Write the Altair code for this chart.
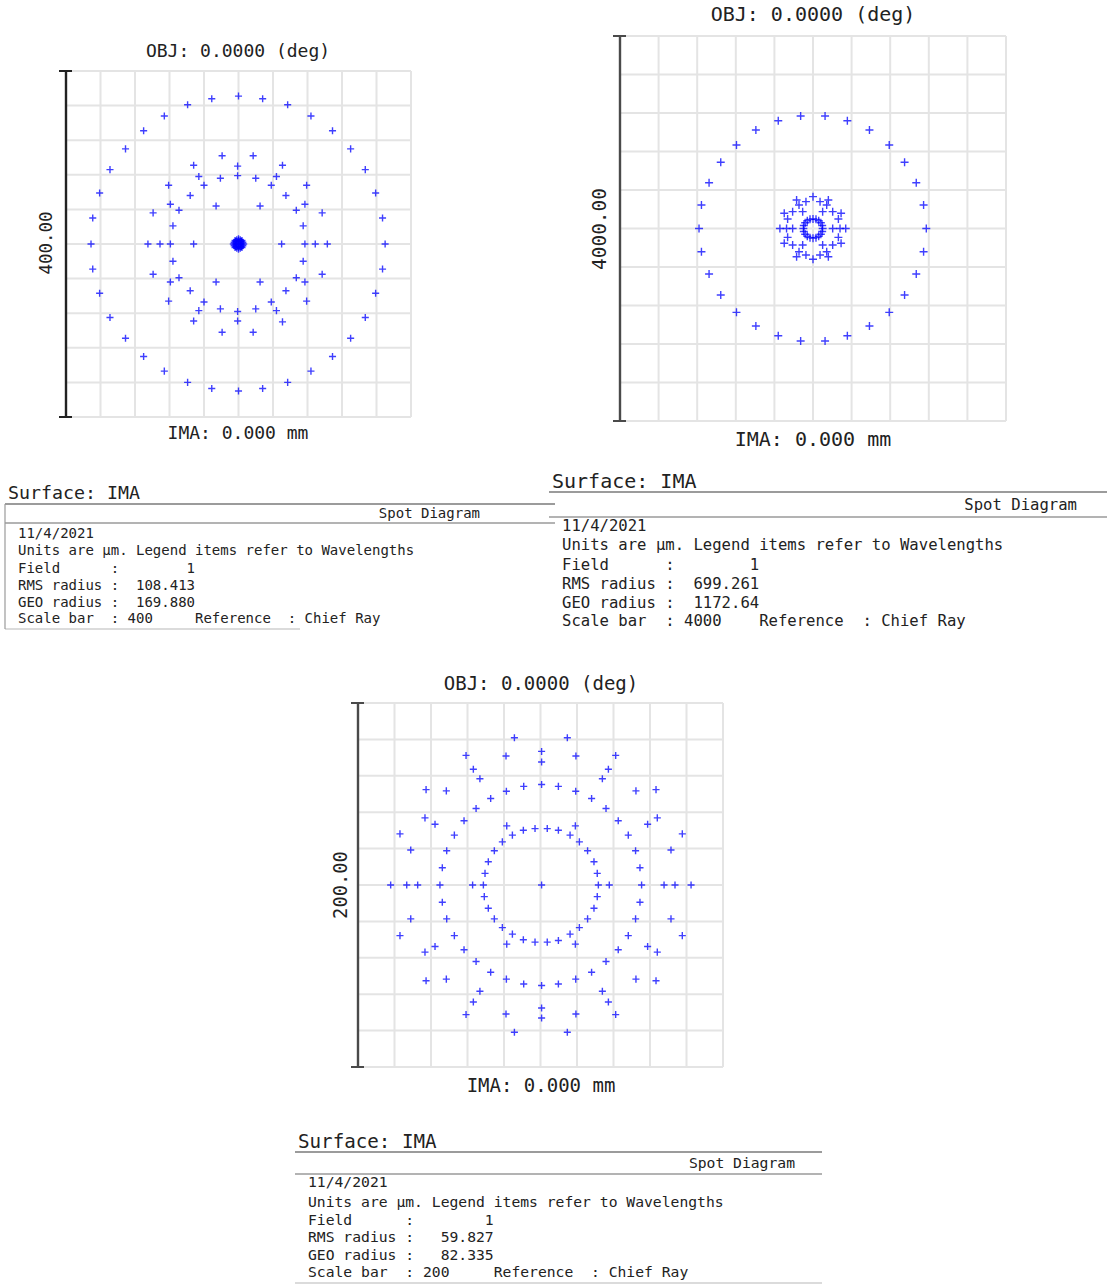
import altair as alt
import pandas as pd

FONT = "DejaVu Sans Mono"
INK = "#222222"
GRID_COLOR = "#e4e4e4"
SPOT_COLOR = "#0000ff"
# thin "+" marker drawn as a custom symbol path
PLUS = "M-1,0H1M0,-1V1"

# ---------------------------------------------------------------- spot data (µm)
# field A: scale bar 400 µm
SPOTS_A = [
    # outer ring
    (0, 171), (-31, 168), (28, 168), (-59, 161), (57, 161), (-86, 148), (84, 148),
    (-110, 131), (109, 131), (-131, 110), (130, 110), (-149, 86), (147, 86),
    (-161, 59), (159, 59), (-169, 30), (167, 30), (-171, 0), (170, 0),
    (-169, -29), (167, -29), (-161, -57), (159, -57), (-149, -85), (147, -85),
    (-131, -109), (130, -109), (-110, -130), (109, -130), (-86, -147), (84, -147),
    (-59, -160), (57, -160), (-31, -167), (28, -167), (0, -170),
    # middle zone
    (-19, 102), (17, 102), (-52, 91), (-1, 90), (51, 91), (-46, 78), (-21, 76),
    (-1, 79), (20, 76), (44, 78), (-81, 68), (-40, 68), (38, 68), (79, 68),
    (-56, 56), (55, 56), (-79, 46), (-69, 39), (-26, 44), (25, 44), (67, 39),
    (77, 46), (-99, 36), (97, 36), (-76, 21), (75, 21),
    (-105, 0), (-91, 0), (-79, 0), (-52, 0), (50, 0), (77, 0), (89, 0), (103, 0),
    (-76, -20), (75, -20), (-99, -35), (97, -35), (-79, -44), (-69, -39),
    (-26, -44), (25, -44), (67, -39), (77, -44), (-56, -54), (55, -54),
    (-81, -66), (-40, -67), (38, -67), (79, -66), (-46, -77), (-21, -75),
    (-1, -78), (20, -75), (44, -77), (-52, -89), (-1, -89), (51, -90),
    (-19, -102), (17, -102),
    # core
    (0, 0), (4, 0), (-4, 0), (0, 4), (0, -4), (3, 3), (-3, 3), (3, -3), (-3, -3),
    (5, 2), (-5, 2), (5, -2), (-5, -2), (2, 5), (-2, 5), (2, -5), (-2, -5),
    (2, 0), (-2, 0), (0, 2), (0, -2), (6, 0), (-6, 0), (0, 6), (0, -6),
    (4, 4), (-4, 4), (4, -4), (-4, -4),
]

# field B: scale bar 4000 µm
SPOTS_B = [
    # outer ring
    (-128, 1169), (125, 1169), (-360, 1120), (356, 1120), (-592, 1023), (585, 1023),
    (-793, 868), (790, 868), (-956, 688), (949, 688), (-1077, 476), (1070, 476),
    (-1156, 244), (1146, 244), (-1181, 0), (1174, 0), (-1156, -241), (1146, -241),
    (-1077, -473), (1070, -473), (-956, -691), (949, -691), (-793, -871), (790, -871),
    (-592, -1013), (585, -1013), (-360, -1114), (356, -1114), (-128, -1169), (125, -1169),
    # inner ring
    (100, 0), (95, 31), (81, 59), (59, 81), (31, 95), (0, 100), (-31, 95), (-59, 81),
    (-81, 59), (-95, 31), (-100, 0), (-95, -31), (-81, -59), (-59, -81), (-31, -95),
    (0, -100), (31, -95), (59, -81), (81, -59), (95, -31),
    # halo around the inner ring
    (-145, 244), (142, 244), (-145, -241), (142, -241), (0, 331), (0, -320),
    (-170, 296), (159, 296), (-170, -293), (159, -293), (-107, 175), (100, 175),
    (-107, -171), (100, -171), (-211, 175), (204, 175), (-211, -171), (204, -171),
    (-263, 99), (263, 99), (-263, -92), (263, -92), (-298, 158), (291, 158),
    (-298, -154), (291, -154), (-343, 0), (-274, 0), (-211, 0), (204, 0), (280, 0),
    (339, 0), (-73, 279), (73, 279), (-73, -275), (73, -275),
]

# field C: scale bar 200 µm
SPOTS_C = [
    # upper half
    (-14.3, 80.9), (14.7, 80.9), (-40.8, 71.2), (-18.9, 70.9), (0.6, 73.4), (0.6, 67.6),
    (19.4, 70.9), (41.2, 71.2), (-36.8, 63.6), (37.2, 63.6), (-33.2, 58.4), (33.9, 58.4),
    (-62.7, 52.4), (-51.6, 51.7), (52.3, 51.7), (63.3, 52.4), (-18.7, 51.5), (-9.2, 54.2),
    (0.6, 55.2), (9.8, 54.2), (19.3, 51.5), (-27.3, 47.5), (28.0, 47.5), (-35.3, 42.0),
    (35.9, 42.0), (-63.3, 36.9), (64.0, 36.9), (-57.8, 33.4), (58.7, 33.4), (-41.9, 35.3),
    (42.6, 35.3), (-77.0, 28.1), (77.7, 28.1), (-47.2, 27.4), (48.1, 27.4), (-71.1, 19.2),
    (71.5, 19.2), (-51.4, 18.8), (52.1, 18.8), (-53.8, 9.5), (54.5, 9.5),
    # centre row
    (-82.1, 0), (-73.3, 0), (-67.3, 0), (-55.1, 0), (-37.2, 0), (-31.3, 0), (0.6, 0),
    (31.7, 0), (37.7, 0), (55.4, 0), (67.7, 0), (73.7, 0), (82.5, 0),
    # inner ring
    (-18.5, 32.5), (-9.4, 30.1), (-3.0, 31.0), (3.7, 31.0), (9.8, 30.1), (19.1, 32.5),
    (-15.4, 27.4), (16.2, 27.4), (-20.9, 23.7), (21.3, 23.7), (-25.3, 18.8), (25.8, 18.8),
    (-28.6, 12.8), (29.3, 12.8), (-30.4, 6.4), (31.1, 6.4), (-30.8, -6.4), (31.1, -6.4),
    (-28.6, -12.8), (29.3, -12.8), (-25.3, -18.6), (25.8, -18.6), (-20.9, -23.4),
    (21.3, -23.4), (-15.4, -27.0), (16.2, -27.0), (-18.5, -32.5), (-9.4, -30.1),
    (-3.0, -31.4), (3.7, -31.4), (9.8, -30.5), (19.1, -32.5),
    # lower half
    (-77.0, -27.8), (77.7, -27.8), (-47.2, -27.8), (48.1, -27.8), (-71.1, -18.6),
    (71.5, -18.6), (-51.4, -18.6), (52.1, -18.6), (-53.8, -9.5), (54.5, -9.5),
    (-57.8, -33.8), (58.7, -33.8), (-63.3, -36.9), (64.0, -36.9), (-41.9, -35.6),
    (42.6, -35.6), (-35.3, -42.0), (35.9, -42.0), (-62.7, -52.6), (63.3, -52.6),
    (-51.6, -51.7), (52.3, -51.7), (-27.3, -47.9), (28.0, -47.9), (-18.7, -51.7),
    (19.3, -51.7), (-9.2, -54.4), (9.8, -54.4), (0.6, -55.2), (-33.2, -58.4),
    (33.9, -58.4), (-36.8, -64.3), (37.2, -64.3), (-40.8, -71.2), (41.2, -71.2),
    (-18.9, -70.9), (19.4, -70.9), (0.6, -67.6), (0.6, -73.1), (-14.3, -80.9),
    (14.7, -80.9),
]

# grid lines (µm) of each diagram
GRID_A = [-200, -160, -120, -80, -40, 0, 40, 80, 120, 160, 200]
GRID_B = [-2000, -1600, -1200, -800, -400, 0, 400, 800, 1200, 1600, 2000]
GRID_C = [-100, -80, -60, -40, -20, 0, 20, 40, 60, 80, 100]

SCALE_BARS = ["400.00", "4000.00", "200.00"]

# report text of each diagram
DATE = "11/4/2021"
UNITS = "Units are µm. Legend items refer to Wavelengths"
FIELD = "Field      :        1"
RMS = ["RMS radius :  108.413", "RMS radius :  699.261", "RMS radius :   59.827"]
GEO = ["GEO radius :  169.880", "GEO radius :  1172.64", "GEO radius :   82.335"]
BAR = [
    "Scale bar  : 400     Reference  : Chief Ray",
    "Scale bar  : 4000    Reference  : Chief Ray",
    "Scale bar  : 200     Reference  : Chief Ray",
]
TITLE = "OBJ: 0.0000 (deg)"
FOOT = "IMA: 0.000 mm"
SURFACE = "Surface: IMA"
KIND = "Spot Diagram"


def nb(s):
    return s.replace(" ", "\u00a0")


def label(text, x, y, size, align="left", angle=0):
    return (
        alt.Chart(pd.DataFrame({"t": [nb(text)]}))
        .mark_text(font=FONT, fontSize=size, align=align, baseline="middle",
                   angle=angle, color=INK)
        .encode(x=alt.value(x), y=alt.value(y), text="t:N")
    )


def hrule(x1, x2, y, color="#8a8a8a", w=1.2):
    return (
        alt.Chart(pd.DataFrame({"k": [0]}))
        .mark_rule(color=color, strokeWidth=w)
        .encode(x=alt.value(x1), x2=alt.value(x2), y=alt.value(y))
    )


def vrule(x, y1, y2, color="#8a8a8a", w=1.2):
    return (
        alt.Chart(pd.DataFrame({"k": [0]}))
        .mark_rule(color=color, strokeWidth=w)
        .encode(x=alt.value(x), y=alt.value(y1), y2=alt.value(y2))
    )


def spot_panel(spots, grid, xpix, ypix, marker, bar_color):
    half = grid[-1]
    sx = alt.Scale(domain=[-half, half], range=xpix, nice=False, zero=False)
    sy = alt.Scale(domain=[-half, half], range=ypix, nice=False, zero=False)
    g = pd.DataFrame({"g": grid, "lo": -half, "hi": half})
    vgrid = alt.Chart(g).mark_rule(color=GRID_COLOR, strokeWidth=2).encode(
        x=alt.X("g:Q", scale=sx, axis=None),
        y=alt.Y("lo:Q", scale=sy, axis=None), y2="hi:Q")
    hgrid = alt.Chart(g).mark_rule(color=GRID_COLOR, strokeWidth=2).encode(
        y=alt.Y("g:Q", scale=sy, axis=None),
        x=alt.X("lo:Q", scale=sx, axis=None), x2="hi:Q")
    ends = pd.DataFrame({"e": [-half, half], "lo": -half})
    bar = alt.Chart(ends.head(1)).mark_rule(color=bar_color, strokeWidth=2.4).encode(
        x=alt.X("lo:Q", scale=sx, axis=None),
        y=alt.Y("lo:Q", scale=sy, axis=None), y2=alt.Y2(datum=half))
    caps = alt.Chart(ends).mark_rule(color=bar_color, strokeWidth=2, xOffset=-7,
                                     x2Offset=6).encode(
        x=alt.X("lo:Q", scale=sx, axis=None), x2="lo:Q",
        y=alt.Y("e:Q", scale=sy, axis=None))
    pts = pd.DataFrame(spots, columns=["x", "y"])
    dots = alt.Chart(pts).mark_point(shape=PLUS, size=marker, filled=False,
                                     color=SPOT_COLOR, strokeWidth=1.4,
                                     opacity=0.75).encode(
        x=alt.X("x:Q", scale=sx, axis=None),
        y=alt.Y("y:Q", scale=sy, axis=None))
    return alt.layer(vgrid, hgrid, bar, caps, dots)


def report(i, left, top_y, width_right, spot_right, rows, size, surf_size,
           line1, line2, bottom=None, border=False):
    parts = [
        label(SURFACE, left, top_y, surf_size),
        hrule(left - 3, width_right, line1, "#7a7a7a", 1.4),
        label(KIND, spot_right, (line1 + line2) / 2 + 0.5, size, align="right"),
        hrule(left - 3, width_right, line2, "#9a9a9a", 1.4),
    ]
    texts = [DATE, UNITS, FIELD, RMS[i], GEO[i], BAR[i]]
    for t, y in zip(texts, rows):
        parts.append(label(t, left + 10, y, size))
    if bottom is not None:
        parts.append(hrule(left - 3, bottom[0], bottom[1], "#cfcfcf", 1.4))
    if border:
        parts.append(vrule(left - 3, line1, bottom[1], "#9a9a9a", 1.2))
    return parts


panels = [
    spot_panel(SPOTS_A, GRID_A, [66, 411], [417, 71], 50, "#222222"),
    spot_panel(SPOTS_B, GRID_B, [620, 1006], [421, 36], 64, "#4a4a4a"),
    spot_panel(SPOTS_C, GRID_C, [358, 723], [1067, 703], 50, "#4a4a4a"),
]

texts = [
    # diagram A
    label(TITLE, 238, 52, 18, align="center"),
    label(FOOT, 238, 434, 18, align="center"),
    label(SCALE_BARS[0], 47, 243, 17.5, align="center", angle=270),
    # diagram B
    label(TITLE, 813, 15, 20, align="center"),
    label(FOOT, 813, 440, 20, align="center"),
    label(SCALE_BARS[1], 600, 229, 19.5, align="center", angle=270),
    # diagram C
    label(TITLE, 541, 684, 19, align="center"),
    label(FOOT, 541, 1086, 19, align="center"),
    label(SCALE_BARS[2], 341, 885, 18.8, align="center", angle=270),
]
texts += report(0, 8, 494, 555, 480, [534, 551, 569, 586, 603, 619], 14, 18.3,
                504, 523, bottom=(300, 629), border=True)
texts += report(1, 552, 482, 1107, 1077, [526, 545, 565, 584, 603, 621], 15.6, 20,
                492, 517)
texts += report(2, 298, 1142, 822, 795, [1183, 1203, 1221, 1238, 1256, 1273], 14.7,
                19.2, 1152, 1174, bottom=(822, 1283))

chart = (
    alt.layer(*panels, *texts)
    .resolve_scale(x="independent", y="independent")
    .properties(width=1107, height=1285, padding=0, background="white",
                autosize=alt.AutoSizeParams(type="none"))
    .configure_view(stroke=None)
)

chart.save("out.html", embed_options={"renderer": "svg", "actions": False})
